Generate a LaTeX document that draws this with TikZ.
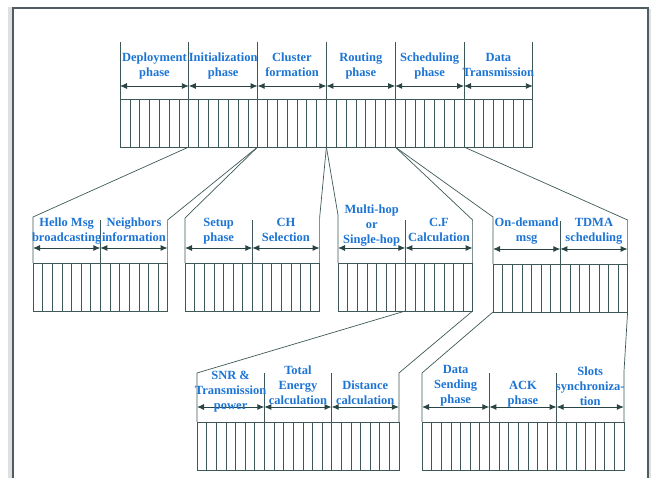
\documentclass[tikz,border=0pt]{standalone}
\usepackage{fontspec}
\setmainfont{Liberation Serif}
\usetikzlibrary{positioning,calc,arrows.meta}
\definecolor{frame color}{HTML}{4F5C60}
\definecolor{slot color}{HTML}{3E5858}
\definecolor{arrow color}{HTML}{2A4444}
\definecolor{label color}{HTML}{1C74D4}
\tikzset{
    x={1pt},
    y={-1pt},
    frame/.style={
        draw=frame color,
        line width={1.2pt},
    },
    frame shadow/.style={
        fill=black!12,
    },
    edge/.style={
        draw=slot color,
        line width={0.7pt},
    },
    slot line/.style={
        draw=slot color,
        line width={0.5pt},
    },
    slot bar/.style={
        draw=slot color, line width={0.7pt},
        rectangle, inner sep=0pt, outer sep=0pt,
        minimum width={#1},
        minimum height={48},
        path picture={
            \foreach \k in {1,...,6}
                \draw[slot line]
                    ($(path picture bounding box.north west)!\k/7!(path picture bounding box.north east)$)
                    -- ($(path picture bounding box.south west)!\k/7!(path picture bounding box.south east)$);
        },
    },
    slot bar/.default={67.3},
    span arrow/.style={
        draw=arrow color,
        line width={0.9pt},
        {Latex[length=7pt,width=6pt]}-{Latex[length=7pt,width=6pt]},
    },
    phase label/.style={
        font={\bfseries\fontsize{12.5}{15}\selectfont},
        text=label color,
        align=center,
        inner sep=0pt, outer sep=0pt,
        execute at end node={\strut},
    },
}

\begin{document}
\begin{tikzpicture}
% background
\useasboundingbox (0,0) rectangle (654,478);
\fill[frame shadow] (8,478) rectangle (12.4,7);
\fill[frame shadow] (648.6,478) rectangle (651,9);
\draw[frame] (13,478) -- (13,8) -- (648,8) -- (648,478);
% phases
\node[slot bar=68.8, anchor=north west] (deploy) at (120,99) {};
\node[slot bar=68.8, right=0pt of deploy] (init) {};
\node[slot bar=68.8, right=0pt of init] (cluster) {};
\node[slot bar=68.8, right=0pt of cluster] (routing) {};
\node[slot bar=68.8, right=0pt of routing] (sched) {};
\node[slot bar=68.8, right=0pt of sched] (datatx) {};
\foreach \n in {deploy,init,cluster,routing,sched,datatx} {
    \draw[edge] (\n.north west) -- ([yshift=57]\n.north west);
    \draw[span arrow] ([yshift=13]\n.north west) -- ([yshift=13]\n.north east);
}
\draw[edge] (datatx.north east) -- ([yshift=57]datatx.north east);
\node[phase label, above=18pt of deploy.north] (deploy label) {Deployment\\phase};
\node[phase label, above=18pt of init.north] (init label) {Initialization\\phase};
\node[phase label, above=18pt of cluster.north] (cluster label) {Cluster\\formation};
\node[phase label, above=18pt of routing.north] (routing label) {Routing\\phase};
\node[phase label, above=18pt of sched.north] (sched label) {Scheduling\\phase};
\node[phase label, above=18pt of datatx.north] (datatx label) {Data\\Transmission};
% sub phases
\node[slot bar, anchor=north west] (hello) at (33,263) {};
\node[slot bar, right=0pt of hello] (neighbors) {};
\node[slot bar, anchor=north west] (setup) at (185,263) {};
\node[slot bar, right=0pt of setup] (chsel) {};
\node[slot bar, anchor=north west] (multihop) at (338,263) {};
\node[slot bar, right=0pt of multihop] (cfcalc) {};
\node[slot bar, anchor=north west] (ondemand) at (493,264) {};
\node[slot bar, right=0pt of ondemand] (tdma) {};
\foreach \n in {hello,neighbors,setup,chsel,multihop,cfcalc,ondemand,tdma}
    \draw[span arrow] ([yshift=15]\n.north west) -- ([yshift=15]\n.north east);
\foreach \n in {neighbors,chsel,cfcalc,tdma}
    \draw[edge] (\n.north west) -- ([yshift=43]\n.north west);
\coordinate (hello top) at ([yshift=46]hello.north west);
\coordinate (neighbors top) at ([yshift=43]neighbors.north east);
\coordinate (setup top) at ([yshift=45]setup.north west);
\coordinate (chsel top) at ([yshift=45]chsel.north east);
\coordinate (multihop top) at ([yshift=48]multihop.north west);
\coordinate (cfcalc top) at ([yshift=43]cfcalc.north east);
\coordinate (ondemand top) at ([yshift=47]ondemand.north west);
\coordinate (tdma top) at ([yshift=44]tdma.north east);
\draw[edge] (init.south west) -- (hello top) -- (hello.north west);
\draw[edge] (init.south east) -- (neighbors top) -- (neighbors.north east);
\draw[edge] (cluster.south west) -- (setup top) -- (setup.north west);
\draw[edge] (cluster.south east) -- (chsel top) -- (chsel.north east);
\draw[edge] (routing.south west) -- (multihop top) -- (multihop.north west);
\draw[edge] (routing.south east) -- (cfcalc top) -- (cfcalc.north east);
\draw[edge] (sched.south west) -- (ondemand top) -- (ondemand.north west);
\draw[edge] (sched.south east) -- (tdma top) -- (tdma.north east);
\node[phase label, above=17pt of hello.north] (hello label) {Hello Msg\\broadcasting};
\node[phase label, above=17pt of neighbors.north] (neighbors label) {Neighbors\\information};
\node[phase label, above=17pt of setup.north] (setup label) {Setup\\phase};
\node[phase label, above=17pt of chsel.north] (chsel label) {CH\\Selection};
\node[phase label, above=15pt of multihop.north] (multihop label) {Multi-hop\\or\\Single-hop};
\node[phase label, above=17pt of cfcalc.north] (cfcalc label) {C.F\\Calculation};
\node[phase label, above=18pt of ondemand.north] (ondemand label) {On-demand\\msg};
\node[phase label, above=18pt of tdma.north] (tdma label) {TDMA\\scheduling};
% steps
\node[slot bar, anchor=north west] (snr) at (197,422) {};
\node[slot bar, right=0pt of snr] (energy) {};
\node[slot bar, right=0pt of energy] (distance) {};
\node[slot bar, anchor=north west] (datasend) at (422,422) {};
\node[slot bar, right=0pt of datasend] (ack) {};
\node[slot bar, right=0pt of ack] (slots) {};
\foreach \n in {snr,energy,distance,datasend,ack,slots}
    \draw[span arrow] ([yshift=15]\n.north west) -- ([yshift=15]\n.north east);
\foreach \n in {energy,distance,ack,slots}
    \draw[edge] (\n.north west) -- ([yshift=49]\n.north west);
\coordinate (snr top) at ([yshift=49]snr.north west);
\coordinate (distance top) at ([yshift=49]distance.north east);
\coordinate (datasend top) at ([yshift=49]datasend.north west);
\coordinate (slots top) at ([yshift=49]slots.north east);
\draw[edge] (cfcalc.south west) -- (snr top) -- (snr.north west);
\draw[edge] (cfcalc.south east) -- (distance top) -- (distance.north east);
\draw[edge] (ondemand.south west) -- (datasend top) -- (datasend.north west);
\draw[edge] (tdma.south east) -- (slots top) -- (slots.north east);
\node[phase label, above=8pt of snr.north] (snr label) {SNR \&\\Transmission\\power};
\node[phase label, above=13pt of energy.north] (energy label) {Total\\Energy\\calculation};
\node[phase label, above=13pt of distance.north] (distance label) {Distance\\calculation};
\node[phase label, above=14pt of datasend.north] (datasend label) {Data\\Sending\\phase};
\node[phase label, above=13pt of ack.north] (ack label) {ACK\\phase};
\node[phase label, above=12pt of slots.north] (slots label) {Slots\\synchroniza-\\tion};
\end{tikzpicture}
\end{document}
